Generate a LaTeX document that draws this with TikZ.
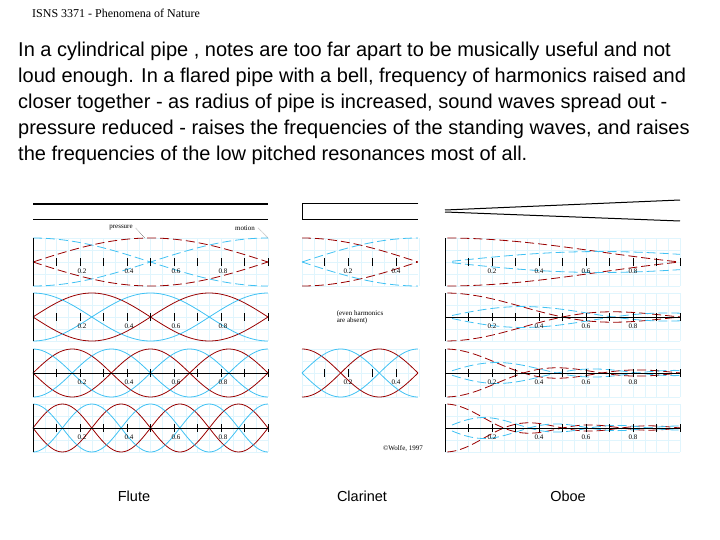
\documentclass[tikz,border=0pt]{standalone}
\usepackage{fontspec}
\setmainfont{Liberation Sans}
\newfontfamily\serif{Liberation Serif}
\begin{document}
\begin{tikzpicture}[x=1pt,y=-1pt,
 gridl/.style={draw=cyan!12,line width=0.5pt},
 pr/.style={draw=red!60!black,line width=0.8pt},
 mo/.style={draw=cyan!75!white,line width=0.8pt},
 dsh/.style={dash pattern=on 9pt off 4pt},
 lab/.style={font=\serif\fontsize{7}{7}\selectfont,inner sep=0pt},
 captxt/.style={font=\fontsize{14.5}{16}\selectfont,inner sep=0pt},
 body/.style={font=\fontsize{20}{22}\selectfont,anchor=west,inner sep=0pt}]
\useasboundingbox (0,0) rectangle (720,540);
\node[anchor=west,inner sep=0pt,font=\serif\fontsize{12}{14}\selectfont] (hdr) at (32,13) {ISNS 3371 - Phenomena of Nature};
\node[body] (l1) at (18,51) {In a cylindrical pipe , notes are too far apart to be musically useful and not};
\node[body] (l2) at (18,77) {loud enough. In a flared pipe with a bell, frequency of harmonics raised and};
\node[body] (l3) at (18,103) {closer together - as radius of pipe is increased, sound waves spread out -};
\node[body] (l4) at (18,129) {pressure reduced - raises the frequencies of the standing waves, and raises};
\node[body] (l5) at (18,155) {the frequencies of the low pitched resonances most of all.};
% tubes
\draw[line width=2pt] (33,204) -- (268,204);
\draw[line width=0.8pt] (33,219) -- (268,219);
\draw[line width=0.8pt] (418,203) -- (302,203) -- (302,219) -- (418,219);
\draw[line width=1.5pt] (418,203.5) -- (302,203.5);
\draw[line width=1pt] (445,210) -- (680,200);
\draw[line width=1pt] (445,212) -- (680,221);
% flute
\foreach \n/\c/\st in {1/262/dsh,2/317/solid,3/373/solid,4/428/solid}{
  \foreach \k in {0,...,20} \draw[gridl] ({33+11.75*\k},{\c-24}) -- ++(0,48);
  \foreach \j in {-24,-12,0,12,24} \draw[gridl] (33,{\c+\j}) -- (268,{\c+\j});
  \draw[pr,\st,domain=0:1,samples=80] plot ({33+235*\x},{\c-24*sin(180*\n*\x)});
  \draw[pr,\st,domain=0:1,samples=80] plot ({33+235*\x},{\c+24*sin(180*\n*\x)});
  \draw[mo,\st,domain=0:1,samples=80] plot ({33+235*\x},{\c-24*cos(180*\n*\x)});
  \draw[mo,\st,domain=0:1,samples=80] plot ({33+235*\x},{\c+24*cos(180*\n*\x)});
  \draw (33,{\c-24}) -- (33,{\c+24});
  \foreach \t in {1,...,10} \draw ({33+23.5*\t},{\c-4}) -- ++(0,8);
  \foreach \t/\s in {1/0.2,2/0.4,3/0.6,4/0.8} \node[lab] at ({35+47*\t},{\c+9}) {\s};
}
\draw (33,373) -- (268,373);
\draw (33,428) -- (268,428);
\node[lab] (pl) at (121,228) {pressure};
\node[lab] (ml) at (245,228) {motion};
\draw[densely dotted] (pl.east) ++(3,0) -- (145,238);
\draw[densely dotted] (ml.east) ++(3,0) -- (268,238);
% clarinet
\foreach \n/\c/\st in {1/262/dsh,3/373/solid}{
  \foreach \k in {0,...,10} \draw[gridl] ({302+11.75*\k},{\c-24}) -- ++(0,48);
  \foreach \j in {-24,-12,0,12,24} \draw[gridl] (302,{\c+\j}) -- (418,{\c+\j});
  \draw[pr,\st,domain=0:1,samples=60] plot ({302+116*\x},{\c-24*cos(90*\n*\x)});
  \draw[pr,\st,domain=0:1,samples=60] plot ({302+116*\x},{\c+24*cos(90*\n*\x)});
  \draw[mo,\st,domain=0:1,samples=60] plot ({302+116*\x},{\c-24*sin(90*\n*\x)});
  \draw[mo,\st,domain=0:1,samples=60] plot ({302+116*\x},{\c+24*sin(90*\n*\x)});
  \foreach \t in {1,...,4} \draw ({300+24*\t},{\c-4}) -- ++(0,8);
  \node[lab] at (348,{\c+9}) {0.2};
  \node[lab] at (396,{\c+9}) {0.4};
}
\node[lab,align=left] (ev) at (360,317) {(even harmonics\\ are absent)};
\node[lab] (cr) at (403,449) {\copyright Wolfe, 1997};
% oboe
\foreach \n/\c in {1/262,2/317,3/373,4/428}{
  \foreach \k in {0,...,20} \draw[gridl] ({445+11.75*\k},{\c-24}) -- ++(0,48);
  \foreach \j in {-24,-12,0,12,24} \draw[gridl] (445,{\c+\j}) -- (680,{\c+\j});
  \draw[pr,dsh,domain=0.01:1,samples=100] plot ({445+235*\x},{\c-24*sin(180*\n*\x)/(3.14159*\n*\x)});
  \draw[pr,dsh,domain=0.01:1,samples=100] plot ({445+235*\x},{\c+24*sin(180*\n*\x)/(3.14159*\n*\x)});
  \draw[mo,dsh,domain=0.03:1,samples=100] plot ({445+235*\x},{\c-24*((sin(180*\n*\x)/(3.14159*\n*\x))-cos(180*\n*\x))/(3.14159*\n*\x)});
  \draw[mo,dsh,domain=0.03:1,samples=100] plot ({445+235*\x},{\c+24*((sin(180*\n*\x)/(3.14159*\n*\x))-cos(180*\n*\x))/(3.14159*\n*\x)});
  \draw (445,{\c-24}) -- (445,{\c+24});
  \foreach \t in {1,...,10} \draw ({445+23.5*\t},{\c-4}) -- ++(0,8);
  \foreach \t/\s in {1/0.2,2/0.4,3/0.6,4/0.8} \node[lab] at ({445+47*\t},{\c+9}) {\s};
}
\foreach \c in {317,373,428} \draw (445,\c) -- (680,\c);
% captions
\node[captxt] (f) at (134,496) {Flute};
\node[captxt] (cl) at (362,496) {Clarinet};
\node[captxt] (ob) at (568,496) {Oboe};
\end{tikzpicture}
\end{document}
